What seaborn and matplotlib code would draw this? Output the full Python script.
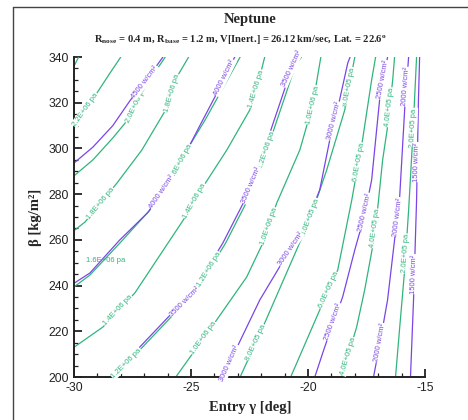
import numpy as np
import pandas as pd
import matplotlib
matplotlib.use("Agg")
import matplotlib.pyplot as plt
import seaborn as sns
from matplotlib.lines import Line2D
from matplotlib.ticker import MultipleLocator

# ---------------- data (gamma [deg], beta [kg/m2]) ----------------
# pressure contours (pa)
p24_g = [-30.0, -29.8]
p24_b = [336.0, 340.0]
p22_g = [-30.0, -29.74, -29.02, -28.46, -28.0]
p22_b = [310.0, 313.75, 324.25, 333.0, 340.0]
p20_g = [-30.0, -29.19, -28.34, -27.6, -27.05, -26.1]
p20_b = [288.0, 295.0, 304.6, 313.75, 325.6, 340.0]
p18_g = [-30.0, -29.53, -28.16, -27.1, -25.9, -25.56, -25.1]
p18_b = [264.0, 267.8, 284.9, 299.3, 320.0, 332.0, 340.0]
p16_g = [-30.0, -29.32, -28.04, -26.76, -25.48, -25.18, -24.4, -22.9]
p16_b = [239.4, 244.6, 258.6, 273.0, 292.75, 299.3, 312.4, 340.0]
p14_g = [-30.0, -28.76, -27.4, -25.05, -24.5, -23.47, -22.49, -22.15, -21.85]
p14_b = [213.0, 221.9, 236.75, 273.0, 283.0, 299.3, 316.8, 327.75, 340.0]
p12_g = [-28.34, -27.19, -25.65, -24.93, -23.52, -22.58, -22.03, -21.51, -20.53, -20.28]
p12_b = [200.0, 211.8, 228.4, 235.0, 258.6, 277.4, 290.6, 306.75, 336.5, 340.0]
p10_g = [-25.65, -23.9, -22.62, -21.93, -21.34, -20.35, -19.8, -19.45]
p10_b = [200.0, 225.0, 243.75, 258.6, 276.0, 299.3, 319.0, 340.0]
p08_g = [-22.9, -21.98, -19.93, -19.2, -18.43, -18.0]
p08_b = [200.0, 220.6, 268.7, 290.6, 316.8, 340.0]
p06_g = [-20.74, -19.5, -18.73, -18.13, -17.67, -17.28, -17.11]
p06_b = [200.0, 229.3, 246.8, 277.4, 303.7, 330.0, 340.0]
p04_g = [-18.56, -17.92, -17.58, -17.24, -17.03, -16.81, -16.6, -16.38, -16.3]
p04_b = [200.0, 221.9, 238.0, 256.9, 273.0, 295.0, 309.4, 330.0, 340.0]
p02_g = [-16.26, -16.09, -15.87, -15.7, -15.53, -15.36]
p02_b = [200.0, 220.6, 246.8, 273.0, 303.7, 340.0]

# heat-flux contours (w/cm2)
q4500_g = [-30.0, -29.19, -28.34, -27.6, -26.97, -26.2]
q4500_b = [293.6, 300.6, 310.0, 321.0, 329.0, 340.0]
q4000_g = [-30.0, -29.32, -28.04, -26.84, -25.6, -24.62, -23.98, -23.13]
q4000_b = [241.0, 245.5, 260.0, 272.0, 290.6, 310.0, 322.5, 340.0]
q3500_g = [-28.46, -27.31, -25.77, -25.05, -23.64, -22.7, -22.15, -21.63, -20.65, -20.4]
q3500_b = [200.0, 211.8, 228.4, 235.0, 258.6, 277.4, 290.6, 306.75, 336.5, 340.0]
q3000_g = [-23.6, -23.09, -22.06, -20.78, -20.23, -19.5, -19.07, -18.65, -18.3, -18.2]
q3000_b = [200.0, 211.8, 233.7, 255.6, 263.0, 281.8, 303.7, 321.2, 337.4, 340.0]
q2500_g = [-19.71, -19.29, -18.52, -18.0, -17.58, -17.28, -16.94, -16.6]
q2500_b = [200.0, 213.0, 235.0, 255.6, 270.9, 286.2, 321.2, 340.0]
q2000_g = [-17.2, -16.94, -16.6, -16.3, -16.09, -15.87, -15.7]
q2000_b = [200.0, 214.0, 233.7, 260.0, 277.4, 316.8, 340.0]
q1500_g = [-15.62, -15.49, -15.36, -15.28, -15.23]
q1500_b = [200.0, 233.7, 277.4, 321.2, 340.0]

# contour names, families, label text and where (beta) the labels sit
line_names = ["p24", "p22", "p20", "p18", "p16", "p14", "p12", "p10", "p08", "p06", "p04", "p02",
              "q4500", "q4000", "q3500", "q3000", "q2500", "q2000", "q1500"]
line_family = ["pres"] * 12 + ["heat"] * 7
line_text = ["2.4E+06 pa", "2.2E+06 pa", "2.0E+06 pa", "1.8E+06 pa", "1.6E+06 pa", "1.4E+06 pa",
             "1.2E+06 pa", "1.0E+06 pa", "8.0E+05 pa", "6.0E+05 pa", "4.0E+05 pa", "2.0E+05 pa",
             "4500 w/cm²", "4000 w/cm²", "3500 w/cm²", "3000 w/cm²", "2500 w/cm²", "2000 w/cm²",
             "1500 w/cm²"]
label_betas = [[], [317], [319], [276, 324], [294], [229, 277, 326], [206, 247, 299],
               [217, 266, 319], [215, 270, 327], [238, 294], [209, 265, 318], [254, 309],
               [329], [281, 331], [233, 284, 335], [206, 256, 312], [224, 272, 330],
               [215, 270, 327], [245, 294]]
# free-standing horizontal label
flat_label_text = "1.6E+06 pa"
flat_label_gamma = -28.63
flat_label_beta = 250.8

xticks = [-30, -25, -20, -15]
yticks = [200, 220, 240, 260, 280, 300, 320, 340]

line_g = [p24_g, p22_g, p20_g, p18_g, p16_g, p14_g, p12_g, p10_g, p08_g, p06_g, p04_g, p02_g,
          q4500_g, q4000_g, q3500_g, q3000_g, q2500_g, q2000_g, q1500_g]
line_b = [p24_b, p22_b, p20_b, p18_b, p16_b, p14_b, p12_b, p10_b, p08_b, p06_b, p04_b, p02_b,
          q4500_b, q4000_b, q3500_b, q3000_b, q2500_b, q2000_b, q1500_b]

rows = []
for name, fam, gs, bs in zip(line_names, line_family, line_g, line_b):
    for i, (g, b) in enumerate(zip(gs, bs)):
        rows.append(dict(line=name, family=fam, gamma=g, beta=b, order=i))
df = pd.DataFrame(rows)

# ---------------- styling ----------------
sns.set_style("ticks")
plt.rcParams["font.family"] = ["Liberation Sans", "DejaVu Sans"]
plt.rcParams["axes.unicode_minus"] = False
plt.rcParams["mathtext.fontset"] = "custom"
plt.rcParams["mathtext.rm"] = "Liberation Serif:bold"
plt.rcParams["mathtext.bf"] = "Liberation Serif:bold"
plt.rcParams["mathtext.it"] = "Liberation Serif:bold:italic"

GREEN = "#2fb57c"
PURPLE = "#7a45e6"
palette = {"pres": GREEN, "heat": PURPLE}

W, H = 468, 420
fig = plt.figure(figsize=(W / 100, H / 100), dpi=100)
ax = fig.add_axes([74 / W, 43 / H, 351 / W, 320 / H])

sns.lineplot(data=df, x="gamma", y="beta", hue="family", units="line", estimator=None,
             sort=False, palette=palette, linewidth=0.9, legend=False, ax=ax)

ax.set_xlim(-30, -15)
ax.set_ylim(200, 340)
ax.set_xticks(xticks)
ax.set_yticks(yticks)
ax.set_xticklabels([str(t) for t in xticks])
ax.set_yticklabels([str(t) for t in yticks])
ax.xaxis.set_minor_locator(MultipleLocator(1))
ax.yaxis.set_minor_locator(MultipleLocator(5))
ax.tick_params(which="major", direction="in", length=6, width=1.3, labelsize=8.7,
               colors="#222222", pad=3.5)
ax.tick_params(which="minor", direction="in", length=3, width=0.9, colors="#222222")
ax.set_xlabel("")
ax.set_ylabel("")
for s in ["top", "right"]:
    ax.spines[s].set_visible(False)
for s in ["left", "bottom"]:
    ax.spines[s].set_linewidth(1.4)
    ax.spines[s].set_color("#222222")

# inline contour labels
for name, fam, txt, gs, bs, lbs in zip(line_names, line_family, line_text, line_g, line_b, label_betas):
    col = palette[fam]
    for lb in lbs:
        g = np.interp(lb, bs, gs)
        g1 = np.interp(lb - 4, bs, gs)
        g2 = np.interp(lb + 4, bs, gs)
        p1 = ax.transData.transform((g1, lb - 4))
        p2 = ax.transData.transform((g2, lb + 4))
        ang = np.degrees(np.arctan2(p2[1] - p1[1], p2[0] - p1[0]))
        ax.text(g, lb, txt, color=col, fontsize=5.5, rotation=ang, rotation_mode="anchor",
                ha="center", va="center", zorder=5,
                bbox=dict(facecolor="white", edgecolor="none", pad=0.4))
ax.text(flat_label_gamma, flat_label_beta, flat_label_text, color=GREEN, fontsize=5.5,
        ha="center", va="center", zorder=5)

# titles and axis labels
serif = ["Liberation Serif", "DejaVu Serif"]
fig.text(250 / W, 1 - 20 / H, "Neptune", ha="center", va="center", fontsize=10.5,
         fontweight="bold", family=serif)
fig.text(240 / W, 1 - 40 / H,
         r"R$_{\rm nose}$ = 0.4 m, R$_{\rm base}$ = 1.2 m, V[Inert.] = 26.12 km/sec, Lat. = 22.6$^{\rm o}$",
         ha="center", va="center", fontsize=7.6, fontweight="bold", family=serif)
fig.text(250 / W, 1 - 408 / H, "Entry γ [deg]", ha="center", va="center", fontsize=10.5,
         fontweight="bold", family=serif)
fig.text(36 / W, 1 - 217 / H, "β [kg/m²]", ha="center", va="center", fontsize=10.5,
         fontweight="bold", family=serif, rotation=90)

# frame (left and top edges visible)
fig.add_artist(Line2D([13 / W, 13 / W], [0, 1 - 7 / H], transform=fig.transFigure,
                      color="#444444", linewidth=1.0))
fig.add_artist(Line2D([13 / W, 1], [1 - 7 / H, 1 - 7 / H], transform=fig.transFigure,
                      color="#444444", linewidth=1.0))

fig.savefig("out.png", dpi=100)
